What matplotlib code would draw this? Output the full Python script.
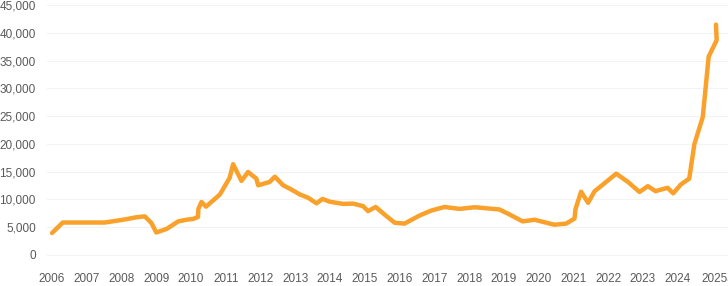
import numpy as np
import matplotlib
matplotlib.use("Agg")
import matplotlib.pyplot as plt
from matplotlib.ticker import FuncFormatter

# values
years = [2006.0, 2006.31, 2007.52, 2008.05, 2008.43, 2008.67, 2008.86, 2009.0,
         2009.3, 2009.63, 2009.87, 2010.06, 2010.2, 2010.21, 2010.3, 2010.43,
         2010.83, 2011.11, 2011.21, 2011.45, 2011.64, 2011.88, 2011.93, 2012.26,
         2012.41, 2012.65, 2012.84, 2013.13, 2013.37, 2013.61, 2013.78, 2013.99,
         2014.37, 2014.66, 2014.95, 2015.09, 2015.31, 2015.62, 2015.86, 2016.14,
         2016.57, 2016.91, 2017.29, 2017.72, 2018.16, 2018.87, 2019.16, 2019.54,
         2019.88, 2020.45, 2020.79, 2021.03, 2021.06, 2021.22, 2021.42, 2021.61,
         2021.85, 2022.23, 2022.57, 2022.9, 2023.14, 2023.36, 2023.71, 2023.87,
         2024.09, 2024.33, 2024.48, 2024.72, 2024.89, 2025.12, 2025.1]
price = [3950, 5850, 5850, 6350, 6800, 6950, 5750, 4050,
         4700, 6050, 6350, 6500, 6850, 8300, 9550, 8700,
         10900, 13900, 16350, 13350, 14950, 13750, 12550, 13150,
         14100, 12550, 11950, 10900, 10300, 9300, 10100, 9600,
         9200, 9250, 8800, 7900, 8650, 7000, 5800, 5650,
         7100, 8000, 8650, 8300, 8600, 8200, 7300, 6050,
         6350, 5450, 5650, 6550, 8300, 11400, 9400, 11500,
         12700, 14650, 13150, 11350, 12400, 11500, 12100, 11100,
         12700, 13750, 20000, 24850, 35750, 38700, 41500]

tick_pos = list(range(2006, 2025)) + [2025.15]
tick_labels = [str(y) for y in range(2006, 2025)] + ["2025a"]
yticks = np.arange(0, 45001, 5000)

plt.rcParams['font.family'] = ['Liberation Sans', 'DejaVu Sans']

fig = plt.figure(figsize=(7.28, 2.86), dpi=100)
ax = fig.add_axes([47 / 728, 1 - 258 / 286, 1 - 47 / 728, 254 / 286])

ax.plot(years, price, color='#F9A12B', lw=3.2, solid_joinstyle='round',
        solid_capstyle='round', zorder=3)

ax.set_xlim(2006 - 5 / 34.76, 2025 + 15.5 / 34.76)
ax.set_ylim(-545, 45000 + 545 * 0.4)
ax.set_yticks(yticks)
ax.yaxis.set_major_formatter(FuncFormatter(lambda v, p: f"{int(v):,}"))
ax.set_xticks(tick_pos)
ax.set_xticklabels(tick_labels)

ax.grid(axis='y', color='#f3f3f3', lw=0.8)
ax.set_axisbelow(True)
for s in ax.spines.values():
    s.set_visible(False)
ax.tick_params(axis='both', length=0, labelsize=8.5, colors='#5a5a5a')
ax.tick_params(axis='y', pad=8)
ax.tick_params(axis='x', pad=11)

fig.savefig('out.png', dpi=100)
